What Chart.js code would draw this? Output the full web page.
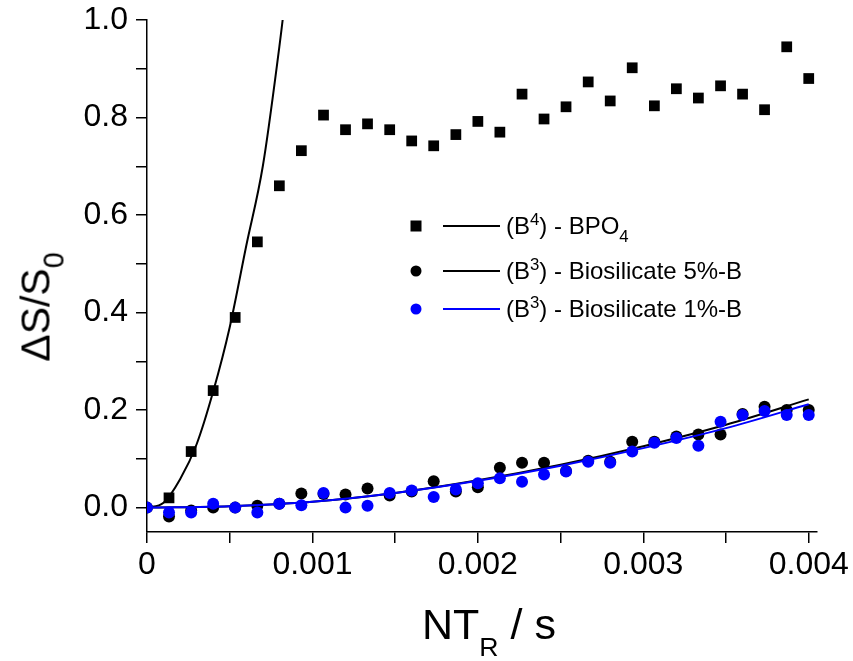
<!DOCTYPE html>
<html>
<head>
<meta charset="utf-8">
<script src="https://cdn.jsdelivr.net/npm/chart.js@4"></script>
<style>
  body { margin: 0; background: #fff; }
  #wrap { position: relative; width: 853px; height: 661px; font-family: Arial, "Liberation Sans", sans-serif; color: #000; }
  canvas { position: absolute; left: 0; top: 0; }
  .sup { font-size: 0.7em; vertical-align: 0.55em; line-height: 0; }
  .sub { font-size: 0.7em; vertical-align: -0.5em; line-height: 0; }
  #y-title { position: absolute; left: 36px; top: 307px; font-size: 41px; line-height: 1; white-space: nowrap;
             transform: translate(-50%, -50%) rotate(-90deg); }
  #x-title { position: absolute; left: 489px; top: 603px; font-size: 43px; line-height: 1; white-space: nowrap;
             transform: translateX(-50%); }
  #x-title .sub { font-size: 0.62em; vertical-align: -0.62em; }
  .legend-row { position: absolute; left: 405px; height: 24px; width: 400px; }
  .mark { position: absolute; left: 11px; top: 12px; transform: translate(-50%, -50%); }
  .mark.square { width: 11px; height: 11px; background: #000; }
  .mark.circle { width: 11px; height: 11px; border-radius: 50%; }
  .stroke { position: absolute; left: 38px; top: 11px; width: 57px; height: 2px; }
  .label { position: absolute; left: 101px; top: 0; font-size: 24px; line-height: 1; white-space: nowrap; }
</style>
</head>
<body>
<div id="wrap">
  <canvas id="chart" width="853" height="661"></canvas>
  <div id="y-title">ΔS/S<span class="sub">0</span></div>
  <div id="x-title">NT<span class="sub">R</span> / s</div>
  <div class="legend-row" style="top:214px">
    <span class="mark square"></span><span class="stroke" style="background:#000"></span>
    <span class="label">(B<span class="sup">4</span>) - BPO<span class="sub">4</span></span>
  </div>
  <div class="legend-row" style="top:259px">
    <span class="mark circle" style="background:#000"></span><span class="stroke" style="background:#000"></span>
    <span class="label">(B<span class="sup">3</span>) - Biosilicate 5%-B</span>
  </div>
  <div class="legend-row" style="top:297px">
    <span class="mark circle" style="background:#0000ff"></span><span class="stroke" style="background:#0000ff"></span>
    <span class="label">(B<span class="sup">3</span>) - Biosilicate 1%-B</span>
  </div>
</div>
<script>
// NT_R values (s) of the measured points
const bpoX = [0.000133, 0.000267, 0.0004, 0.000533, 0.000667, 0.0008, 0.000933, 0.001067, 0.0012, 0.001333,
  0.001467, 0.0016, 0.001733, 0.001867, 0.002, 0.002133, 0.002267, 0.0024, 0.002533, 0.002667,
  0.0028, 0.002933, 0.003067, 0.0032, 0.003333, 0.003467, 0.0036, 0.003733, 0.003867, 0.004];
const bpoY = [0.02, 0.115, 0.24, 0.39, 0.545, 0.66, 0.732, 0.805, 0.775, 0.787,
  0.775, 0.752, 0.742, 0.765, 0.792, 0.77, 0.848, 0.797, 0.822, 0.873,
  0.834, 0.902, 0.824, 0.859, 0.84, 0.865, 0.848, 0.816, 0.945, 0.88];

const bioX = [0, 0.000133, 0.000267, 0.0004, 0.000533, 0.000667, 0.0008, 0.000933, 0.001067, 0.0012, 0.001333,
  0.001467, 0.0016, 0.001733, 0.001867, 0.002, 0.002133, 0.002267, 0.0024, 0.002533, 0.002667,
  0.0028, 0.002933, 0.003067, 0.0032, 0.003333, 0.003467, 0.0036, 0.003733, 0.003867, 0.004];
const bio5Y = [0, -0.018, -0.006, 0.0, 0.0, 0.004, 0.008, 0.029, 0.028, 0.027, 0.039,
  0.025, 0.033, 0.054, 0.033, 0.042, 0.082, 0.092, 0.092, 0.075, 0.096,
  0.094, 0.135, 0.135, 0.146, 0.15, 0.15, 0.192, 0.207, 0.2, 0.2];
const bio1Y = [0, -0.01, -0.01, 0.008, 0.0, -0.01, 0.008, 0.005, 0.03, 0.0, 0.004,
  0.03, 0.035, 0.022, 0.037, 0.05, 0.06, 0.053, 0.068, 0.074, 0.094,
  0.092, 0.115, 0.133, 0.143, 0.127, 0.176, 0.19, 0.198, 0.19, 0.19];

// fitted curves
const bpoFitX = [0, 0.0001, 0.0002, 0.0003, 0.0004, 0.0005, 0.0006, 0.0007, 0.0008, 0.00082];
const bpoFitY = [0, 0.01, 0.058, 0.13, 0.238, 0.37, 0.537, 0.70, 0.945, 1.0];
const bioFitX = [0, 0.0005, 0.001, 0.0015, 0.002, 0.0025, 0.003, 0.0035, 0.004];
const bio5FitY = [0, 0.003, 0.012, 0.03, 0.056, 0.088, 0.126, 0.17, 0.222];
const bio1FitY = [0, 0.003, 0.012, 0.03, 0.055, 0.086, 0.122, 0.163, 0.212];

const xTicks = [0, 0.0005, 0.001, 0.0015, 0.002, 0.0025, 0.003, 0.0035, 0.004];
const xTickLabels = ['0', '', '0.001', '', '0.002', '', '0.003', '', '0.004'];
const yTicks = [0, 0.1, 0.2, 0.3, 0.4, 0.5, 0.6, 0.7, 0.8, 0.9, 1.0];
const yTickLabels = ['0.0', '', '0.2', '', '0.4', '', '0.6', '', '0.8', '', '1.0'];

const pts = (xs, ys) => xs.map((x, i) => ({ x, y: ys[i] }));

Chart.defaults.font.family = 'Arial, "Liberation Sans", sans-serif';
Chart.defaults.color = '#000';

const axisGrid = { display: true, drawOnChartArea: false, drawTicks: true, tickLength: 11, color: '#000', lineWidth: 1.5 };
const axisBorder = { display: true, color: '#000', width: 1.5 };

new Chart(document.getElementById('chart'), {
  type: 'scatter',
  data: {
    datasets: [
      { label: 'fit 1%', data: pts(bioFitX, bio1FitY), showLine: true, borderColor: '#0000ff', borderWidth: 2,
        pointRadius: 0, cubicInterpolationMode: 'monotone', order: 1 },
      { label: '(B3) - Biosilicate 1%-B', data: pts(bioX, bio1Y), pointStyle: 'circle', pointRadius: 6,
        backgroundColor: '#0000ff', borderWidth: 0, order: 2 },
      { label: 'fit 5%', data: pts(bioFitX, bio5FitY), showLine: true, borderColor: '#000', borderWidth: 2,
        pointRadius: 0, cubicInterpolationMode: 'monotone', order: 3 },
      { label: '(B3) - Biosilicate 5%-B', data: pts(bioX, bio5Y), pointStyle: 'circle', pointRadius: 6,
        backgroundColor: '#000', borderWidth: 0, order: 4 },
      { label: 'fit BPO4', data: pts(bpoFitX, bpoFitY), showLine: true, borderColor: '#000', borderWidth: 2,
        pointRadius: 0, cubicInterpolationMode: 'monotone', order: 5 },
      { label: '(B4) - BPO4', data: pts(bpoX, bpoY), pointStyle: 'rect', pointRadius: 7.6,
        backgroundColor: '#000', borderWidth: 0, order: 6 },
    ],
  },
  options: {
    responsive: false,
    animation: false,
    devicePixelRatio: 1,
    layout: { padding: { top: 20, right: 36, left: 0, bottom: 0 } },
    plugins: { legend: { display: false }, tooltip: { enabled: false } },
    scales: {
      x: {
        type: 'linear', min: 0, max: 0.00405,
        grid: axisGrid, border: axisBorder,
        afterBuildTicks: s => { s.ticks = xTicks.map(v => ({ value: v })); },
        afterFit: s => { s.height = 129; s.paddingLeft = 0; s.paddingRight = 0; },
        ticks: { font: { size: 32 }, padding: 3, maxRotation: 0, autoSkip: false,
                 callback: (v, i) => xTickLabels[i] },
      },
      y: {
        type: 'linear', min: -0.05, max: 1.0,
        grid: axisGrid, border: axisBorder,
        afterBuildTicks: s => { s.ticks = yTicks.map(v => ({ value: v })); },
        afterFit: s => { s.width = 147; s.paddingTop = 0; s.paddingBottom = 0; },
        ticks: { font: { size: 32 }, padding: 8, autoSkip: false,
                 callback: (v, i) => yTickLabels[i] },
      },
    },
  },
});
</script>
</body>
</html>
